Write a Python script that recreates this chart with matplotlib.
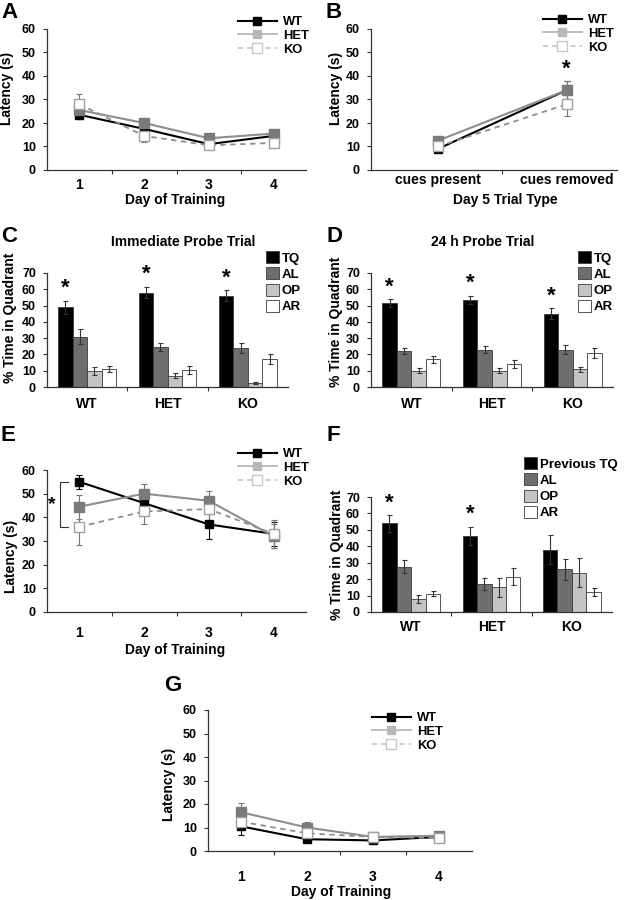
import matplotlib
matplotlib.use('Agg')
import matplotlib.pyplot as plt
from matplotlib.lines import Line2D
from matplotlib.patches import Patch
from matplotlib.ticker import FixedLocator, NullFormatter
import numpy as np

plt.rcParams['font.family'] = ['Liberation Sans', 'DejaVu Sans']
plt.rcParams['font.weight'] = 'bold'

# ---------------- data ----------------
days = [1, 2, 3, 4]
day_labels = ['1', '2', '3', '4']
trial_types = ['cues present', 'cues removed']
genotypes = ['WT', 'HET', 'KO']
quadrants = ['TQ', 'AL', 'OP', 'AR']
quadrants_f = ['Previous TQ', 'AL', 'OP', 'AR']

# Panel A: latency by day
a_wt = [23.5, 17.5, 11.0, 14.5]
a_wt_err = [2.0, 1.5, 1.0, 1.5]
a_het = [25.5, 20.0, 13.5, 15.5]
a_het_err = [1.5, 1.5, 1.0, 1.5]
a_ko = [28.0, 14.5, 10.5, 11.5]
a_ko_err = [4.5, 2.5, 1.0, 1.0]

# Panel B: day 5 trial type
b_wt = [9.0, 34.0]
b_wt_err = [1.5, 4.0]
b_het = [12.5, 34.0]
b_het_err = [1.5, 4.0]
b_ko = [10.0, 28.0]
b_ko_err = [2.0, 5.0]

# Panel C: immediate probe trial (rows = genotype, cols = quadrant)
c_vals = [[49, 31, 10, 11],
          [58, 24.5, 7, 10.5],
          [56, 24, 2.5, 17]]
c_err = [[4, 4.5, 2.5, 2],
         [3.5, 2.5, 1.5, 2.5],
         [3.5, 3, 0.5, 3]]
c_sig = [True, True, True]

# Panel D: 24 h probe trial
d_vals = [[51.5, 22, 10, 17],
          [53.5, 23, 10, 14],
          [45, 23, 11, 21]]
d_err = [[2.5, 2, 1.5, 2],
         [2.5, 2, 1.5, 2.5],
         [3.5, 3, 1.5, 3]]
d_sig = [True, True, True]

# Panel E: latency by day
e_wt = [55.0, 46.0, 37.0, 33.0]
e_wt_err = [3.0, 3.0, 6.0, 5.0]
e_het = [44.5, 50.0, 47.0, 32.0]
e_het_err = [5.0, 4.0, 4.0, 5.0]
e_ko = [36.0, 42.5, 43.5, 33.0]
e_ko_err = [7.5, 5.5, 5.0, 6.0]

# Panel F: probe trial (previous TQ)
f_vals = [[54, 27.5, 8, 11],
          [46.5, 17, 15, 21.5],
          [38, 26, 24, 12]]
f_err = [[5, 4, 2.5, 1.5],
         [5.5, 3.5, 6, 5],
         [9, 6.5, 9, 2.5]]
f_sig = [True, True, False]

# Panel G: latency by day
g_wt = [10.5, 5.0, 4.5, 6.0]
g_wt_err = [3.5, 1.0, 0.5, 0.5]
g_het = [16.5, 10.0, 6.0, 6.5]
g_het_err = [4.0, 2.5, 0.5, 0.5]
g_ko = [12.5, 7.5, 6.0, 5.5]
g_ko_err = [3.0, 2.0, 0.5, 0.5]

# ---------------- layout helpers ----------------
W, H = 630, 900
fig = plt.figure(figsize=(6.3, 9), dpi=100)


def fx(x):
    return x / W


def fy(y):
    return 1 - y / H


def rect(l, t, r, b):
    return [l / W, 1 - b / H, (r - l) / W, (b - t) / H]


AXC = '#333333'
LINE_STYLES = {
    'WT': dict(color='black', lw=1.5, ls='-', marker='s', mfc='black', mec='black', ms=6),
    'HET': dict(color='#8e8e8e', lw=1.5, ls='-', marker='s', mfc='#7a7a7a', mec='#7a7a7a', ms=6.5),
    'KO': dict(color='#8e8e8e', lw=1.3, ls=(0, (3, 2.5)), marker='s', mfc='white', mec='#a0a0a0', ms=7.5),
}
ERR_COL = {'WT': 'black', 'HET': '#777777', 'KO': '#777777'}
LEG_HANDLES = [
    Line2D([], [], color='black', lw=1.5, marker='s', mfc='black', mec='black', ms=6),
    Line2D([], [], color='#b8b8b8', lw=1.3, marker='s', mfc='#b8b8b8', mec='#b8b8b8', ms=6),
    Line2D([], [], color='#c4c4c4', lw=1.2, ls=(0, (3, 2.5)), marker='s', mfc='white', mec='#c8c8c8', ms=7),
]
BAR_COLORS = ['black', '#6e6e6e', '#c4c4c4', 'white']


def style_axes(ax, ylim, yticks, ytick_size=9):
    for s in ['top', 'right']:
        ax.spines[s].set_visible(False)
    for s in ['left', 'bottom']:
        ax.spines[s].set_color(AXC)
        ax.spines[s].set_linewidth(0.9)
    ax.set_ylim(*ylim)
    ax.set_yticks(yticks)
    ax.tick_params(axis='y', direction='out', length=3, width=0.8, color=AXC,
                   labelsize=ytick_size, pad=5)


def cat_xaxis(ax, positions, labels, xlim, pad, size=10):
    ax.set_xlim(*xlim)
    ax.set_xticks(positions)
    ax.set_xticklabels(labels, fontsize=size, fontweight='bold')
    ax.tick_params(axis='x', which='major', length=0, pad=pad)
    bounds = [p + 0.5 for p in positions[:-1]]
    ax.xaxis.set_minor_locator(FixedLocator(bounds))
    ax.xaxis.set_minor_formatter(NullFormatter())
    ax.tick_params(axis='x', which='minor', direction='out', length=3, width=0.8, color=AXC)


def line_panel(r, x, series, errs, xlabels, xlim, pad, leg_xy):
    ax = fig.add_axes(r)
    for name, y, e in zip(genotypes, series, errs):
        ax.errorbar(x, y, yerr=e, fmt='none', ecolor=ERR_COL[name], elinewidth=0.8,
                    capsize=2, capthick=0.8, zorder=2)
        ax.plot(x, y, zorder=3, **LINE_STYLES[name])
    style_axes(ax, (0, 60), range(0, 61, 10))
    cat_xaxis(ax, list(x), xlabels, xlim, pad)
    ax.legend(LEG_HANDLES, genotypes, loc='upper left', frameon=False,
              bbox_to_anchor=(fx(leg_xy[0]), fy(leg_xy[1])), bbox_transform=fig.transFigure,
              handlelength=3.0, handletextpad=0.5, labelspacing=0.14,
              borderpad=0, borderaxespad=0, prop={'weight': 'bold', 'size': 9.3})
    return ax


def bar_panel(r, vals, errs, sig, labels, pad, leg_xy):
    ax = fig.add_axes(r)
    bw = 0.18
    xs = np.arange(len(genotypes))
    vals = np.array(vals, dtype=float)
    errs = np.array(errs, dtype=float)
    for q in range(len(labels)):
        xq = xs + (q - 1.5) * bw
        ax.bar(xq, vals[:, q], width=bw, color=BAR_COLORS[q], edgecolor='#3a3a3a',
               linewidth=0.6, label=labels[q], zorder=2)
        ax.errorbar(xq, vals[:, q], yerr=errs[:, q], fmt='none', ecolor='#333333',
                    elinewidth=0.8, capsize=1.8, capthick=0.8, zorder=3)
    for g in range(len(genotypes)):
        if sig[g]:
            ax.text(xs[g] - 1.5 * bw, vals[g, 0] + errs[g, 0] + 1.0, '*', ha='center',
                    va='bottom', fontsize=16, fontweight='bold')
    style_axes(ax, (0, 70), range(0, 71, 10))
    cat_xaxis(ax, list(xs), genotypes, (-0.5, 2.5), pad)
    ax.legend(loc='upper left', frameon=False,
              bbox_to_anchor=(fx(leg_xy[0]), fy(leg_xy[1])), bbox_transform=fig.transFigure,
              handlelength=0.95, handleheight=1.05, handletextpad=0.25, labelspacing=0.2,
              borderpad=0, borderaxespad=0, prop={'weight': 'bold', 'size': 9.5})
    return ax


def panel_letter(x, y, s):
    fig.text(fx(x), fy(y), s, fontsize=16, fontweight='bold', ha='left', va='top')


def label(x, y, s, rot=0, size=10):
    fig.text(fx(x), fy(y), s, fontsize=size, fontweight='bold', ha='center', va='center',
             rotation=rot)


# ---------------- Panel A ----------------
axA = line_panel(rect(47, 29, 306, 170), days, [a_wt, a_het, a_ko],
                 [a_wt_err, a_het_err, a_ko_err], day_labels, (0.5, 4.5), 5.5, (238, 16))
panel_letter(1, 2, 'A')
label(7, 88, 'Latency (s)', rot=90)
label(175, 200, 'Day of Training')

# ---------------- Panel B ----------------
xb = [1, 2]
axB = line_panel(rect(371, 29, 617, 170), xb, [b_wt, b_het, b_ko],
                 [b_wt_err, b_het_err, b_ko_err], trial_types, (0.48, 2.39), 2.5, (543, 14))
axB.text(xb[1], max(b_wt[1] + b_wt_err[1], b_het[1] + b_het_err[1]) + 0.5, '*',
         ha='center', va='bottom', fontsize=16, fontweight='bold')
panel_letter(325, 2, 'B')
label(336, 88, 'Latency (s)', rot=90)
label(505, 200, 'Day 5 Trial Type')

# ---------------- Panel C ----------------
axC = bar_panel(rect(47, 273, 288, 387), c_vals, c_err, c_sig, quadrants, 7, (266, 251))
panel_letter(1, 226, 'C')
label(183, 242, 'Immediate Probe Trial')
label(10, 318, '% Time in Quadrant', rot=90)

# ---------------- Panel D ----------------
axD = bar_panel(rect(371, 273, 613, 387), d_vals, d_err, d_sig, quadrants, 7, (578, 251))
panel_letter(326, 226, 'D')
label(483, 242, '24 h Probe Trial')
label(336, 322, '% Time in Quadrant', rot=90)

# ---------------- Panel E ----------------
axE = line_panel(rect(47, 470, 306, 612), days, [e_wt, e_het, e_ko],
                 [e_wt_err, e_het_err, e_ko_err], day_labels, (0.5, 4.5), 10, (238, 448))
# significance bracket between WT and KO on day 1
bx = days[0] - 0.3
axE.plot([bx + 0.12, bx, bx, bx + 0.12], [e_wt[0], e_wt[0], e_ko[0], e_ko[0]],
         color='#333333', lw=0.8)
axE.text(bx - 0.12, (e_wt[0] + e_ko[0]) / 2, '*', ha='center', va='center',
         fontsize=14, fontweight='bold')
panel_letter(1, 425, 'E')
label(11, 556, 'Latency (s)', rot=90)
label(175, 650, 'Day of Training')

# ---------------- Panel F ----------------
axF = bar_panel(rect(371, 497, 612, 612), f_vals, f_err, f_sig, quadrants_f, 6, (524, 457))
panel_letter(327, 425, 'F')
label(337, 555, '% Time in Quadrant', rot=90)

# ---------------- Panel G ----------------
axG = line_panel(rect(208, 710, 472, 851), days, [g_wt, g_het, g_ko],
                 [g_wt_err, g_het_err, g_ko_err], day_labels, (0.5, 4.5), 13.5, (372, 712))
panel_letter(164, 675, 'G')
label(169, 784, 'Latency (s)', rot=90)
label(341, 892, 'Day of Training')

fig.savefig('out.png', dpi=100)
